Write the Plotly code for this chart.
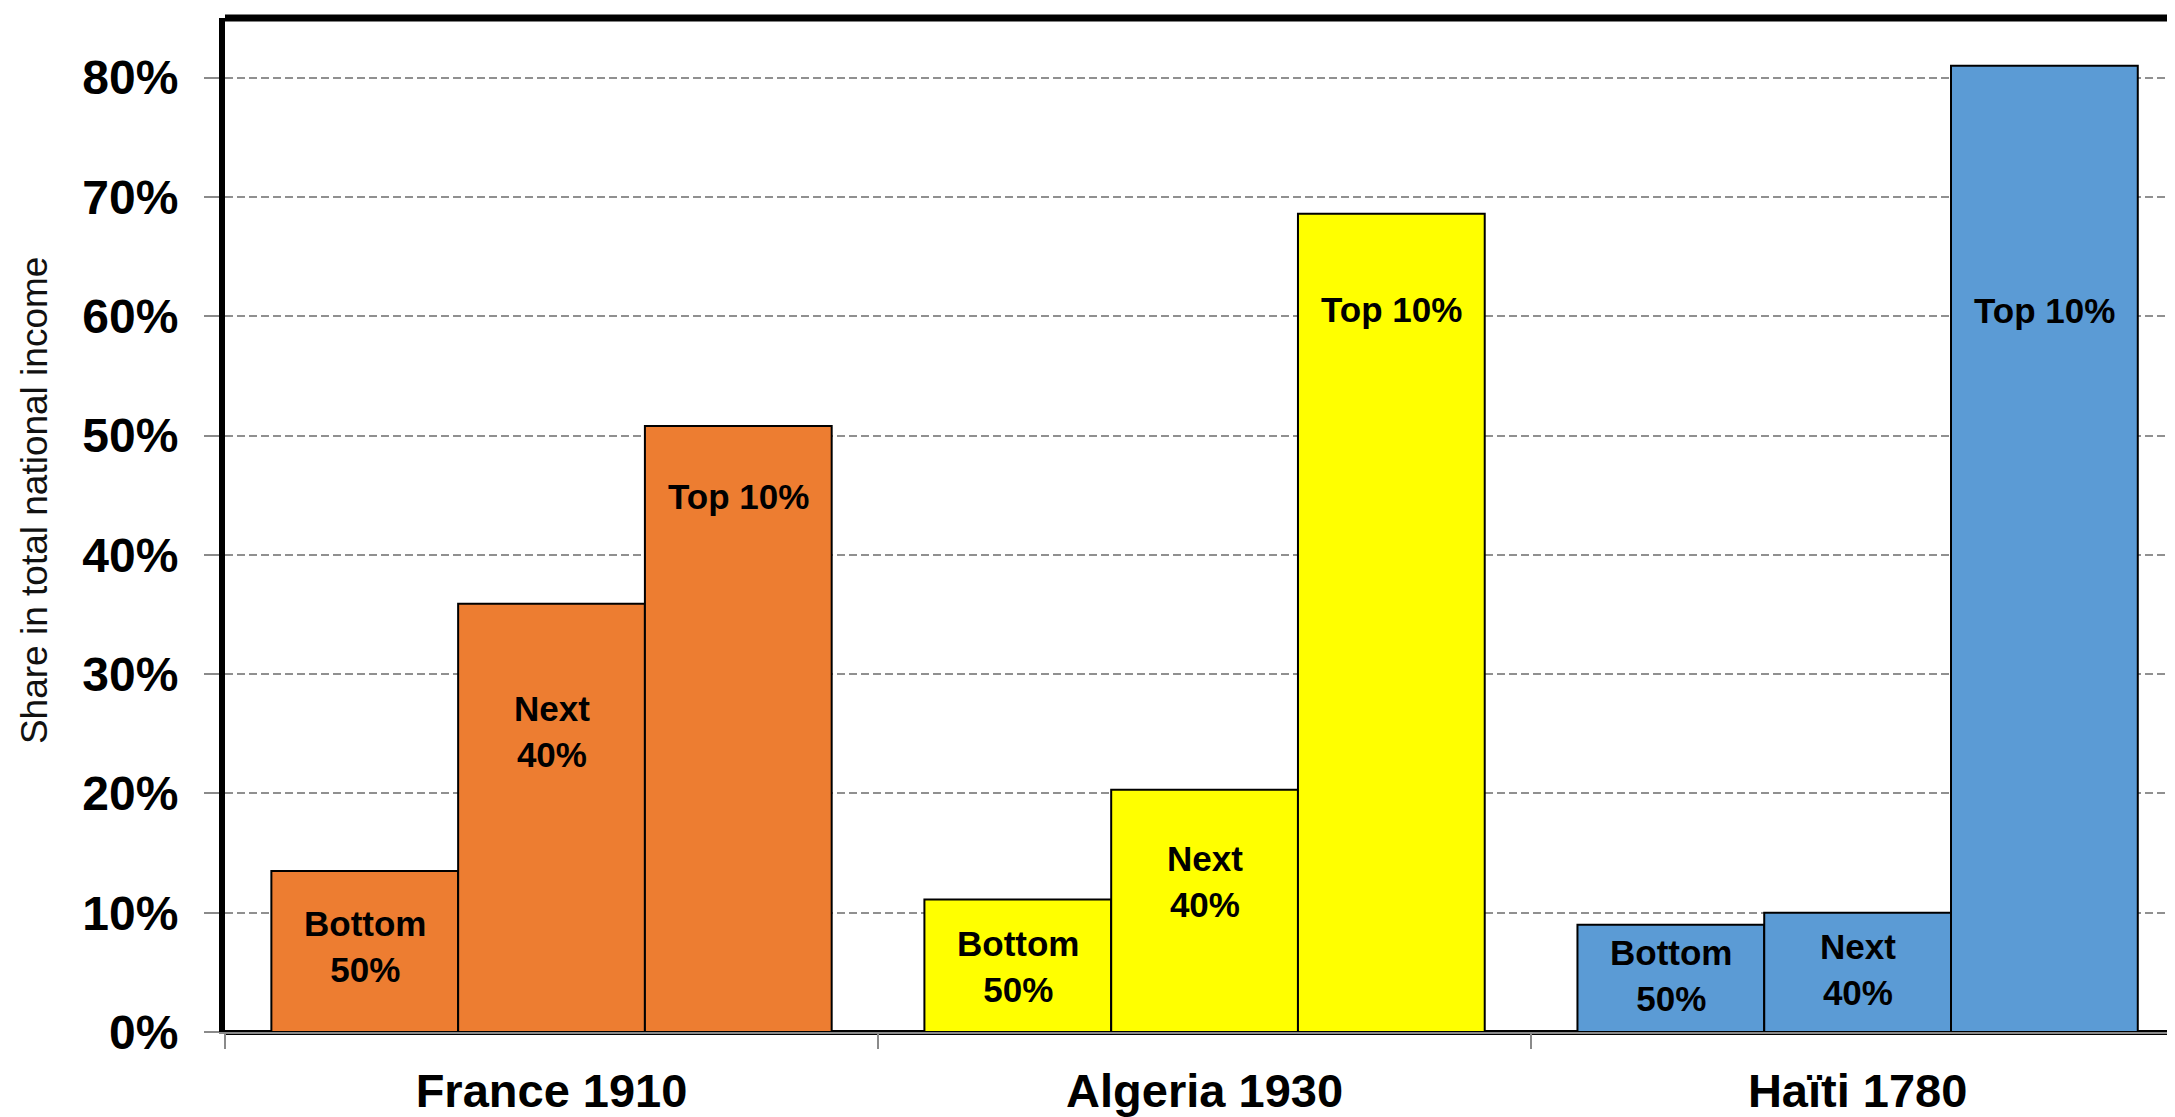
import plotly.graph_objects as go

# ---- data ----
countries = ["France 1910", "Algeria 1930", "Haïti 1780"]
groups = ["Bottom 50%", "Next 40%", "Top 10%"]
bar_labels = ["Bottom<br>50%", "Next<br>40%", "Top 10%"]
bottom50 = [13.5, 11.1, 9.0]
next40 = [35.9, 20.3, 10.0]
top10 = [50.8, 68.6, 81.0]
# label anchor heights (in % units) for each group, per country
label_y_bottom = [7.2, 5.5, 4.7]
label_y_next = [25.2, 12.6, 5.2]
label_y_top = [44.9, 60.6, 60.5]
country_colors = ["#ED7D31", "#FFFF00", "#5B9BD5"]
y_ticks = [0, 10, 20, 30, 40, 50, 60, 70, 80]
y_ticktext = [f"{v}%" for v in y_ticks]

FONT = "Liberation Sans, Arial, sans-serif"
BARGAP = 0.142
PAGE_OFFSET = 8  # default body margin of the html page

fig = go.Figure()
series = [bottom50, next40, top10]
for name, vals in zip(groups, series):
    fig.add_trace(go.Bar(
        x=countries, y=vals, name=name,
        marker=dict(color=country_colors, line=dict(color="black", width=2)),
        showlegend=False, hoverinfo="x+y+name",
    ))

# labels inside bars
w = (1 - BARGAP) / 3
label_ys = [label_y_bottom, label_y_next, label_y_top]
annotations = []
for j, (lab, ys) in enumerate(zip(bar_labels, label_ys)):
    for i in range(len(countries)):
        annotations.append(dict(
            x=i + (j - 1) * w, y=ys[i], xref="x", yref="y",
            text=f"<b>{lab}</b>", showarrow=False,
            font=dict(family=FONT, size=35, color="black"),
            xanchor="center", yanchor="middle", align="center",
        ))

# y-axis title as annotation
annotations.append(dict(
    x=0, y=0.5236, xref="paper", yref="paper", xshift=-191,
    text="Share in total national income", textangle=-90, showarrow=False,
    font=dict(family=FONT, size=37, color="#111111"),
    xanchor="center", yanchor="middle",
))

fig.update_layout(
    width=2175 - PAGE_OFFSET, height=1117 - PAGE_OFFSET,
    margin=dict(l=225 - PAGE_OFFSET, r=0, t=18 - PAGE_OFFSET, b=81, pad=0),
    paper_bgcolor="white", plot_bgcolor="white",
    barmode="group", bargap=BARGAP, bargroupgap=0,
    font=dict(family=FONT, color="black"),
    annotations=annotations,
    shapes=[dict(type="line", xref="paper", yref="paper", x0=0, x1=1.01, y0=1, y1=1,
                 line=dict(color="black", width=7), layer="above")],
)

fig.update_xaxes(
    type="category", categoryorder="array", categoryarray=countries,
    range=[-0.5, 2.486], tickson="boundaries", ticks="outside", ticklen=15,
    tickwidth=2, tickcolor="#8a8a8a", showline=True, linecolor="#8a8a8a", linewidth=2,
    showgrid=False, tickfont=dict(family=FONT, size=47, color="black", weight="bold"),
    ticklabelstandoff=17,
)
fig.update_yaxes(
    range=[0, 85], tickvals=y_ticks, ticktext=y_ticktext,
    showgrid=True, gridcolor="#909090", gridwidth=1.5, griddash="8px,4px",
    zeroline=True, zerolinecolor="black", zerolinewidth=5,
    showline=True, linecolor="black", linewidth=6,
    ticks="outside", ticklen=15, tickwidth=2, tickcolor="#8a8a8a",
    tickfont=dict(family=FONT, size=48, color="black", weight="bold"),
    ticklabelstandoff=16,
)

fig.write_html("out.html")
